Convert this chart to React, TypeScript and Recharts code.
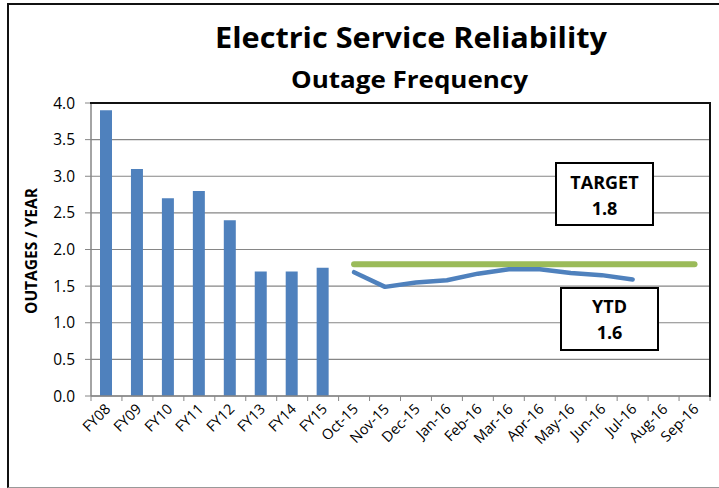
import React from 'react';
import { ComposedChart, Bar, Line, XAxis, YAxis, CartesianGrid } from 'recharts';

const categories = [
  'FY08', 'FY09', 'FY10', 'FY11', 'FY12', 'FY13', 'FY14', 'FY15',
  'Oct-15', 'Nov-15', 'Dec-15', 'Jan-16', 'Feb-16', 'Mar-16', 'Apr-16', 'May-16', 'Jun-16', 'Jul-16', 'Aug-16', 'Sep-16',
];
const annualValues = [3.9, 3.1, 2.7, 2.8, 2.4, 1.7, 1.7, 1.75];
const ytdValues = [1.69, 1.49, 1.55, 1.58, 1.67, 1.73, 1.73, 1.68, 1.65, 1.59];
const targetValue = 1.8;
const yTicks = [0, 0.5, 1, 1.5, 2, 2.5, 3, 3.5, 4];

const titleText = 'Electric Service Reliability';
const subtitleText = 'Outage Frequency';
const yAxisTitle = 'OUTAGES / YEAR';

const data = categories.map((cat, i) => {
  const m = i - annualValues.length;
  return {
    cat,
    annual: i < annualValues.length ? annualValues[i] : null,
    ytd: m >= 0 && m < ytdValues.length ? ytdValues[m] : null,
    target: m >= 0 ? targetValue : null,
  };
});

const FONT = '"Open Sans", Arial, sans-serif';
const AXIS_GRAY = '#868686';
const BLUE = '#4F81BD';
const GREEN = '#9BBB59';

const XTick = (props: any) => {
  const { x, y, payload, index, visibleTicksCount } = props;
  const w = typeof props.width === 'number' ? props.width : 619;
  const n = visibleTicksCount || categories.length;
  const band = w / n;
  const ax = x + 5;
  const ay = y + 14;
  return (
    <g>
      <line x1={x - band / 2} x2={x - band / 2} y1={y} y2={y + 5} stroke={AXIS_GRAY} strokeWidth={1} />
      {index === n - 1 && (
        <line x1={x + band / 2} x2={x + band / 2} y1={y} y2={y + 5} stroke={AXIS_GRAY} strokeWidth={1} />
      )}
      <text
        x={ax}
        y={ay}
        textAnchor="end"
        transform={`rotate(-45 ${ax} ${ay})`}
        fontSize={14.5}
        fontFamily={FONT}
        fill="#000"
      >
        {payload.value}
      </text>
    </g>
  );
};

export default function App() {
  const ytdLast = ytdValues[ytdValues.length - 1];
  return (
    <div style={{ position: 'fixed', left: 0, top: 0, width: 719, height: 488, overflow: 'hidden', background: '#fff' }}>
      <div
        style={{
          position: 'absolute', left: 7, top: 3, width: 780, height: 485,
          borderLeft: '2px solid #111', borderTop: '2px solid #111', borderBottom: '1.5px solid #999',
          boxSizing: 'border-box',
        }}
      />
      <div style={{ position: 'absolute', left: 0, top: 0 }}>
        <ComposedChart
          width={719}
          height={488}
          data={data}
          margin={{ top: 103, right: 9, bottom: 32, left: 31 }}
        >
          <CartesianGrid vertical={false} stroke={AXIS_GRAY} strokeWidth={1.2} />
          <XAxis
            dataKey="cat"
            interval={0}
            tickLine={false}
            tickSize={0}
            tickMargin={0}
            height={60}
            axisLine={{ stroke: AXIS_GRAY, strokeWidth: 1.5 }}
            tick={<XTick />}
          />
          <YAxis
            domain={[0, 4]}
            ticks={yTicks}
            width={60}
            tickFormatter={(v: number) => v.toFixed(1)}
            tick={{ fontSize: 15.5, fontFamily: FONT, fill: '#000' }}
            tickSize={6}
            tickMargin={10}
            tickLine={{ stroke: AXIS_GRAY }}
            axisLine={{ stroke: AXIS_GRAY, strokeWidth: 1.5 }}
          />
          <Bar dataKey="annual" fill={BLUE} barSize={12} isAnimationActive={false} />
          <Line
            dataKey="target"
            stroke={GREEN}
            strokeWidth={6}
            strokeLinecap="round"
            dot={false}
            activeDot={false}
            isAnimationActive={false}
          />
          <Line
            dataKey="ytd"
            stroke={BLUE}
            strokeWidth={4.5}
            strokeLinecap="round"
            strokeLinejoin="round"
            dot={false}
            activeDot={false}
            isAnimationActive={false}
          />
        </ComposedChart>
      </div>
      <div
        style={{
          position: 'absolute', left: 90, top: 102, width: 621, height: 295,
          borderTop: '2px solid #111', borderRight: '2px solid #111', boxSizing: 'border-box', pointerEvents: 'none',
        }}
      />
      <svg width={719} height={488} style={{ position: 'absolute', left: 0, top: 0, pointerEvents: 'none' }}>
        <text x={215} y={48} fontSize={28} fontWeight={700} fontFamily={FONT} fill="#000" textLength={392} lengthAdjust="spacingAndGlyphs">
          {titleText}
        </text>
        <text x={291} y={88} fontSize={23} fontWeight={700} fontFamily={FONT} fill="#000" textLength={237} lengthAdjust="spacingAndGlyphs">
          {subtitleText}
        </text>
        <text
          x={0}
          y={0}
          transform="translate(37 251) rotate(-90)"
          textAnchor="middle"
          fontSize={15.5}
          fontWeight={700}
          fontFamily={FONT}
          fill="#000"
        >
          {yAxisTitle}
        </text>
        <rect x={556} y={163} width={97} height={62} fill="#fff" stroke="#000" strokeWidth={2} />
        <text x={604.5} y={189} textAnchor="middle" fontSize={18} fontWeight={700} fontFamily={FONT} fill="#000">TARGET</text>
        <text x={604.5} y={215} textAnchor="middle" fontSize={18} fontWeight={700} fontFamily={FONT} fill="#000">{targetValue.toFixed(1)}</text>
        <rect x={561} y={288} width={97} height={62} fill="#fff" stroke="#000" strokeWidth={2} />
        <text x={609.5} y={313} textAnchor="middle" fontSize={18} fontWeight={700} fontFamily={FONT} fill="#000">YTD</text>
        <text x={609.5} y={339} textAnchor="middle" fontSize={18} fontWeight={700} fontFamily={FONT} fill="#000">{ytdLast.toFixed(1)}</text>
      </svg>
    </div>
  );
}
